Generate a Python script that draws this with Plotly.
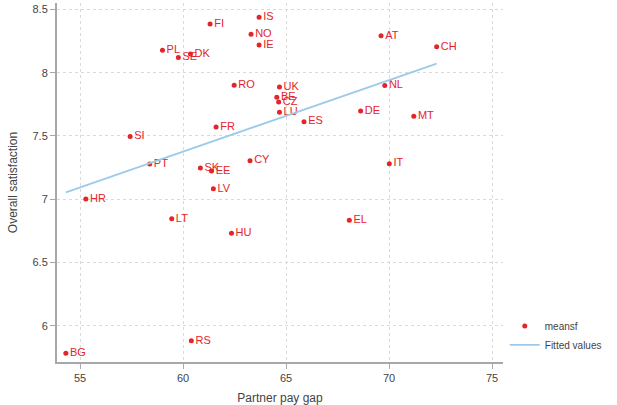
import plotly.graph_objects as go

countries = ["FI", "IS", "NO", "IE", "PL", "SE", "DK", "RO", "UK", "BE", "CZ", "LU", "ES",
             "FR", "SI", "PT", "SK", "EE", "CY", "LV", "HR", "LT", "HU", "RS", "BG",
             "AT", "CH", "NL", "DE", "MT", "IT", "EL"]
pay_gap = [61.31, 63.69, 63.30, 63.69, 59.00, 59.77, 60.36, 62.48, 64.68, 64.55, 64.64, 64.68, 65.87,
           61.60, 57.43, 58.38, 60.84, 61.38, 63.25, 61.47, 55.28, 59.45, 62.35, 60.40, 54.31,
           69.61, 72.31, 69.79, 68.62, 71.20, 70.01, 68.07]
satisfaction = [8.385, 8.438, 8.304, 8.219, 8.177, 8.119, 8.148, 7.900, 7.887, 7.806, 7.769, 7.687, 7.613,
                7.571, 7.495, 7.279, 7.247, 7.223, 7.305, 7.083, 7.002, 6.846, 6.731, 5.882, 5.785,
                8.291, 8.204, 7.898, 7.698, 7.656, 7.281, 6.834]

fit_x = [54.31, 72.31]
fit_y = [7.055, 8.072]

x_ticks = [55, 60, 65, 70, 75]
y_ticks = [6, 6.5, 7, 7.5, 8, 8.5]
y_tick_labels = ["6", "6.5", "7", "7.5", "8", "8.5"]

red = "#e3242b"
blue = "#9ccbea"
grid = "#dadada"
axis = "#a8a8a8"
txt = "#444444"

fig = go.Figure()
fig.add_trace(go.Scatter(
    x=pay_gap, y=satisfaction, mode="markers+text", text=countries,
    textposition="middle right", name="meansf",
    marker=dict(color=red, size=5),
    textfont=dict(color=red, size=11, family="Liberation Sans"),
))
fig.add_trace(go.Scatter(
    x=fit_x, y=fit_y, mode="lines", name="Fitted values",
    line=dict(color=blue, width=1.8),
))

fig.update_layout(
    width=617, height=405,
    margin=dict(l=57, r=114, t=3, b=43, autoexpand=False),
    paper_bgcolor="white", plot_bgcolor="white",
    font=dict(family="Liberation Sans", size=11, color=txt),
    legend=dict(x=1.004, y=0.074, xanchor="left", yanchor="middle",
                font=dict(size=10, color=txt), bgcolor="rgba(0,0,0,0)",
                itemwidth=30, tracegroupgap=0),
    showlegend=True,
)
fig.update_xaxes(
    range=[53.88, 75.53], tickvals=x_ticks, ticks="outside", ticklen=5,
    tickcolor=axis, showline=True, linecolor=axis, linewidth=2,
    showgrid=True, gridcolor=grid, griddash="dot", gridwidth=1, zeroline=False,
    automargin=False,
    title=dict(text="Partner pay gap", font=dict(size=12, color=txt), standoff=10),
    tickfont=dict(size=11, color=txt),
)
fig.update_yaxes(
    range=[5.715, 8.55], tickvals=y_ticks, ticktext=y_tick_labels, ticks="outside", ticklen=5,
    tickcolor=axis, showline=True, linecolor=axis, linewidth=2,
    showgrid=True, gridcolor=grid, griddash="dot", gridwidth=1, zeroline=False,
    automargin=False,
    title=dict(text="Overall satisfaction", font=dict(size=12, color=txt), standoff=12),
    tickfont=dict(size=11, color=txt),
)

fig.write_html("out.html", config={"displayModeBar": False},
               post_script="document.body.style.margin='0px';")
